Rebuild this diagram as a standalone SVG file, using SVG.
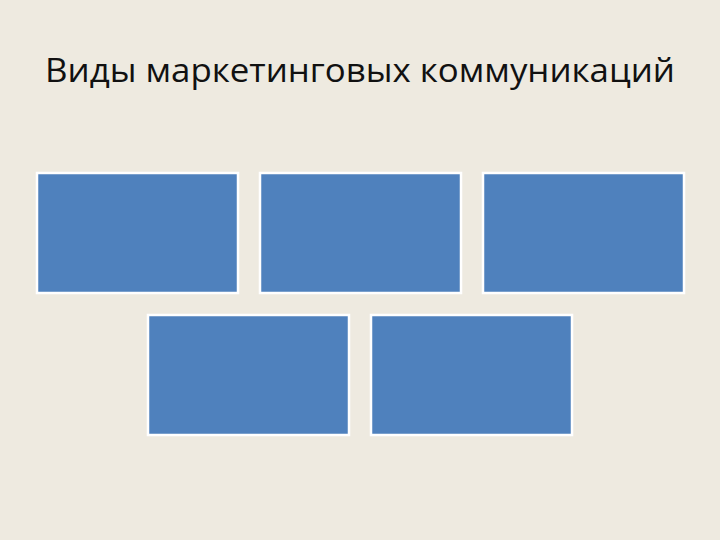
<svg xmlns="http://www.w3.org/2000/svg" width="720" height="540" viewBox="0 0 720 540">
<style>
.bg{fill:#EEEAE0}
.title{font-family:"Open Sans","Noto Sans","Liberation Sans",sans-serif;font-size:32px;fill:#111111}
.box{fill:#4F81BD;stroke:#FFFFFF;stroke-width:2.5}
</style>
<rect class="bg" x="0" y="0" width="720" height="540"/>
<text class="title" x="45" y="82" textLength="630" lengthAdjust="spacingAndGlyphs">Виды маркетинговых коммуникаций</text>
<g id="node1"><rect class="box" x="37" y="173" width="201" height="120"/></g>
<g id="node2"><rect class="box" x="260" y="173" width="201" height="120"/></g>
<g id="node3"><rect class="box" x="483" y="173" width="201" height="120"/></g>
<g id="node4"><rect class="box" x="148" y="315" width="201" height="120"/></g>
<g id="node5"><rect class="box" x="371" y="315" width="201" height="120"/></g>
<g id="connectors"></g>
</svg>
